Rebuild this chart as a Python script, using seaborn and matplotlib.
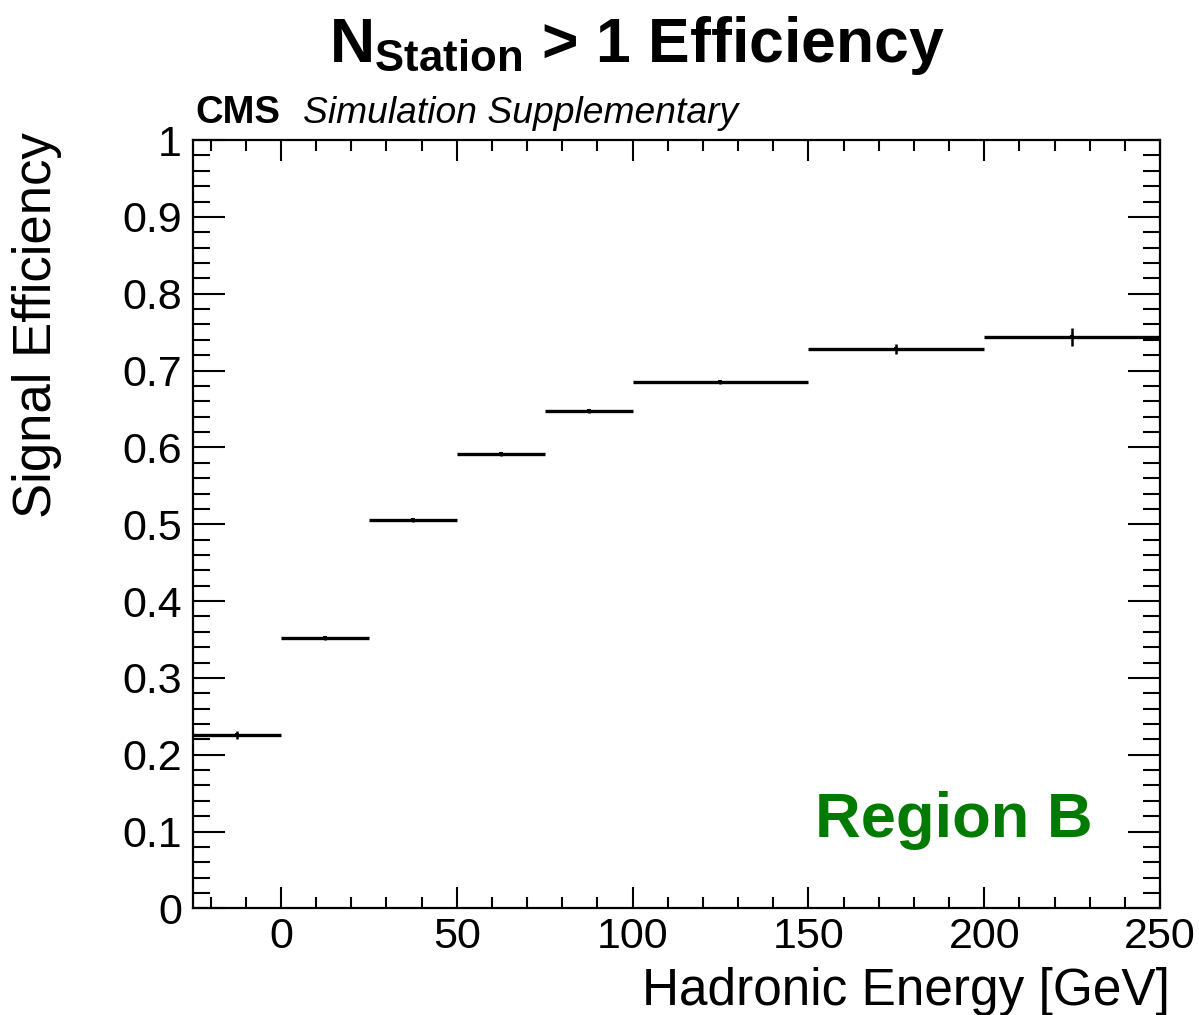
import matplotlib
matplotlib.use("Agg")
import matplotlib.pyplot as plt
import numpy as np
import pandas as pd
import seaborn as sns
from matplotlib.ticker import MultipleLocator

# Bin edges [GeV] and efficiency per bin
bin_low = [-25, 0, 25, 50, 75, 100, 150, 200]
bin_high = [0, 25, 50, 75, 100, 150, 200, 250]
efficiency = [0.226, 0.352, 0.505, 0.591, 0.647, 0.685, 0.728, 0.744]
eff_error = [0.005, 0.002, 0.002, 0.002, 0.002, 0.003, 0.0065, 0.012]

y_ticks = [0, 0.1, 0.2, 0.3, 0.4, 0.5, 0.6, 0.7, 0.8, 0.9, 1]
y_ticklabels = ["0", "0.1", "0.2", "0.3", "0.4", "0.5", "0.6", "0.7", "0.8", "0.9", "1"]
x_ticks = [0, 50, 100, 150, 200, 250]

df = pd.DataFrame({"low": bin_low, "high": bin_high,
                   "eff": efficiency, "err": eff_error})
df["center"] = (df["low"] + df["high"]) / 2

sns.set_style("ticks")
plt.rcParams["font.family"] = ["Liberation Sans", "DejaVu Sans"]
plt.rcParams["mathtext.fontset"] = "custom"
plt.rcParams["mathtext.rm"] = "Liberation Sans"
plt.rcParams["mathtext.bf"] = "Liberation Sans:bold"
plt.rcParams["mathtext.it"] = "Liberation Sans:italic"
for key in ["text.color", "axes.labelcolor", "xtick.color", "ytick.color", "axes.edgecolor"]:
    plt.rcParams[key] = "black"

fig = plt.figure(figsize=(11.99, 10.15), dpi=100)
ax = fig.add_axes([0.161, 0.105, 0.8065, 0.757])

# horizontal bin widths + vertical stat errors
ax.hlines(df["eff"], df["low"], df["high"], color="black", linewidth=2.4)
ax.errorbar(df["center"], df["eff"], yerr=df["err"], fmt="none",
            ecolor="black", elinewidth=1.8, capsize=0)
sns.scatterplot(data=df, x="center", y="eff", ax=ax, color="black",
                s=8, marker="s", linewidth=0, legend=False)

ax.set_xlim(-25, 250)
ax.set_ylim(0, 1)
ax.set_xticks(x_ticks)
ax.set_xticklabels([str(v) for v in x_ticks])
ax.set_yticks(y_ticks)
ax.set_yticklabels(y_ticklabels)
ax.xaxis.set_minor_locator(MultipleLocator(10))
ax.yaxis.set_minor_locator(MultipleLocator(0.02))

ax.tick_params(which="both", direction="in", top=True, right=True,
               width=1.5, labelsize=31)
ax.tick_params(axis="x", which="major", length=15, pad=6)
ax.tick_params(axis="x", which="minor", length=8)
ax.tick_params(axis="y", which="major", length=23, pad=8)
ax.tick_params(axis="y", which="minor", length=12)
for s in ax.spines.values():
    s.set_linewidth(1.6)

ax.set_xlabel("Hadronic Energy [GeV]", fontsize=37, loc="right")
ax.xaxis.set_label_coords(1.0103, -0.076)
ax.set_ylabel("Signal Efficiency", fontsize=38, loc="top")
ax.yaxis.set_label_coords(-0.1355, 1.0104)

fig.text(0.531, 0.955, r"$\mathbf{N_{Station}}$ > 1 Efficiency",
         ha="center", va="center", fontsize=45, fontweight="bold")
ax.text(0.002, 1.012, "CMS", transform=ax.transAxes, fontsize=27.5,
        fontweight="bold", ha="left", va="bottom")
ax.text(0.114, 1.012, "Simulation Supplementary", transform=ax.transAxes,
        fontsize=26.8, style="italic", ha="left", va="bottom")
ax.text(0.93, 0.115, "Region B", transform=ax.transAxes, fontsize=45.5,
        fontweight="bold", color="#007a00", ha="right", va="center")

plt.savefig("out.png", dpi=100)
